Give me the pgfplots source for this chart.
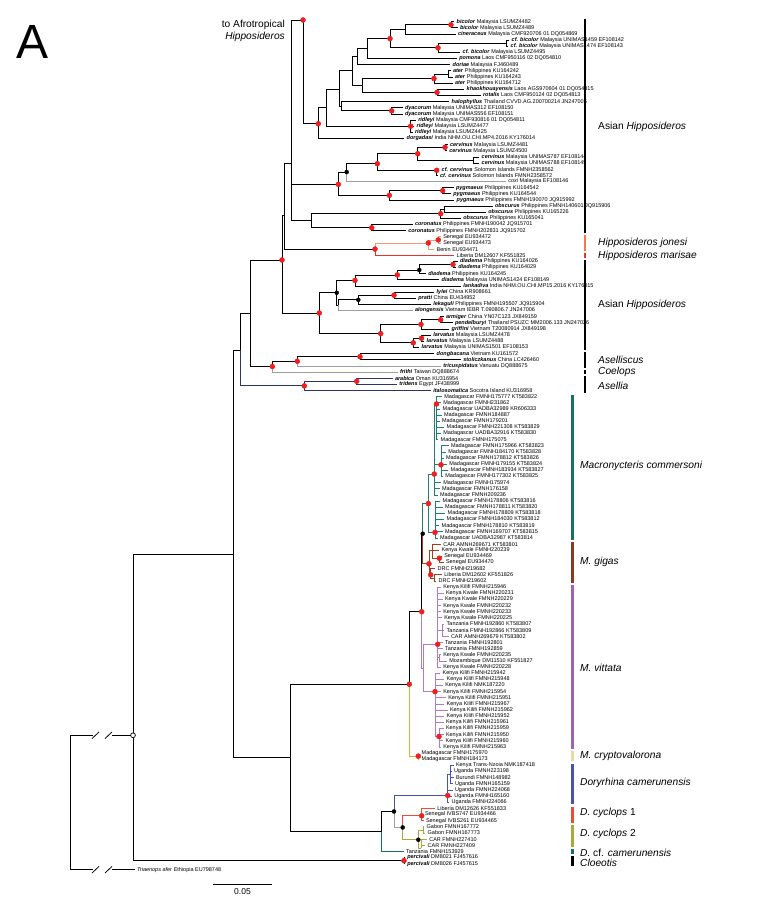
\documentclass[border=0pt]{standalone}
\usepackage{pgfplots}
\pgfplotsset{compat=1.18}
\usepackage{fontspec}
\setmainfont{Liberation Sans}
\definecolor{cRed}{HTML}{F01E1E}
\definecolor{cOr}{HTML}{F39A78}
\definecolor{cOrBar}{HTML}{F4784A}
\definecolor{cMar}{HTML}{E8322C}
\definecolor{cNv}{HTML}{2B3566}
\definecolor{cTl}{HTML}{1F7F78}
\definecolor{cTlBar}{HTML}{1A6E66}
\definecolor{cBr}{HTML}{A0401F}
\definecolor{cBrBar}{HTML}{8C3A24}
\definecolor{cPu}{HTML}{B07CC6}
\definecolor{cPuBar}{HTML}{A064B4}
\definecolor{cGd}{HTML}{E0A83C}
\definecolor{cGdBar}{HTML}{E6DCA0}
\definecolor{cBl}{HTML}{4854A8}
\definecolor{cCy}{HTML}{F04A3C}
\definecolor{cOl}{HTML}{AAAA3A}
\definecolor{cDt}{HTML}{1B6B66}
\pgfplotsset{
 eBK/.style={black,line width=0.75pt},
 eGR/.style={gray!75,line width=0.75pt},
 eOR/.style={cOr,line width=0.75pt},
 eRD/.style={cMar,line width=0.75pt},
 eNV/.style={cNv,line width=0.75pt},
 eTL/.style={cTl,line width=0.75pt},
 eBR/.style={cBr,line width=0.75pt},
 ePU/.style={cPu,line width=0.75pt},
 eGD/.style={cGd,line width=0.75pt},
 eBL/.style={cBl,line width=0.75pt},
 eCY/.style={cCy,line width=0.75pt},
 eOL/.style={cOl,line width=0.75pt},
 eDT/.style={cDt,line width=0.75pt},
}
\newcommand{\spn}[1]{\textbf{\textit{#1}}}
\newcommand{\ED}[5][eBK]{\addplot[#1] coordinates {(#2,#3) (#2,#5) (#4,#5)};}
\newcommand{\LB}[3]{\node[anchor=west,inner sep=0pt,xshift=2.3pt,font=\fontsize{5.5}{6}\selectfont] at (axis cs:#1,#2) {#3};}
\newcommand{\LF}[6][eBK]{\ED[#1]{#2}{#3}{#4}{#5}\LB{#4}{#5}{#6}}
\newcommand{\AN}[3]{\node[anchor=west,inner sep=0pt,font=\fontsize{10.2}{11}\selectfont] at (axis cs:#1,#2) {#3};}
\begin{document}
\begin{tikzpicture}
\begin{axis}[width=756pt,height=924pt,scale only axis,xmin=0,xmax=756,ymin=-2.531,ymax=147.81,y dir=reverse,hide axis,clip=false]
% ---------- top connector
\ED{291}{24}{303}{0.72}
\addplot[eBK] coordinates {(303,0.72) (303,17.6) (318.3,17.6)};
\ED{291}{24}{338.3}{27.46}
\ED{291}{24}{311.7}{33.38}
\ED{284.5}{32.5}{291}{24}
\ED{284.5}{32.5}{375}{38.0}
\ED{282}{39.77}{284.5}{32.5}
\ED{282}{39.77}{319.3}{48.4}
\ED{250}{48.4}{282}{39.77}
\ED{250}{48.4}{272.3}{57.1}
\ED{240}{54.4}{250}{48.4}
\ED[eNV]{240}{54.4}{304.3}{60.25}
% ---------- Asian Hipposideros 1
\ED{318.3}{17.6}{326.7}{15}
\LF{318.3}{17.6}{404.2}{20}{\spn{dorgadasi} India NHM.OU.CHI.MP4.2016 KY176014}
\ED{326.7}{15}{339.5}{12}
\ED{326.7}{15}{410.7}{18}
\LF{410.7}{18}{415.8}{17}{\spn{ridleyi} Malaysia CMF930816 01 DQ054811}
\LF{410.7}{18}{414.2}{18}{\spn{ridleyi} Malaysia LSUMZ4477}
\LF{410.7}{18}{412.5}{19}{\spn{ridleyi} Malaysia LSUMZ4425}
\ED{339.5}{12}{352}{9}
\ED{339.5}{12}{341}{14.7}
\LF{341}{14.7}{449.2}{14}{\spn{halophyllus} Thailand CVVD.AG.200700214 JN247005}
\ED{341}{14.7}{391.7}{15.5}
\LF{391.7}{15.5}{402.5}{15}{\spn{dyacorum} Malaysia UNIMAS312 EF108150}
\LF{391.7}{15.5}{402.5}{16}{\spn{dyacorum} Malaysia UNIMAS556 EF108151}
\ED{352}{9}{357}{6.7}
\ED{352}{9}{362}{11.4}
\ED{362}{11.4}{434}{10.25}
\ED{362}{11.4}{437}{12.5}
\LF{437}{12.5}{464.2}{12}{\spn{khaokhouayensis} Laos AGS970604 01 DQ054815}
\LF{437}{12.5}{480.5}{13}{\spn{rotalis} Laos CMF950124 02 DQ054813}
\ED{434}{10.25}{448}{9.5}
\LF{434}{10.25}{452.5}{11}{\spn{ater} Philippines KU164712}
\LF{448}{9.5}{450.5}{9}{\spn{ater} Philippines KU164242}
\LF{448}{9.5}{452.5}{10}{\spn{ater} Philippines KU164243}
\ED{357}{6.7}{367}{5.4}
\LF{357}{6.7}{450.2}{8}{\spn{doriae} Malaysia FJ460489}
\ED{367}{5.4}{390}{3.75}
\LF{367}{5.4}{456.8}{7}{\spn{pomona} Laos CMF950116 02 DQ054810}
\ED{390}{3.75}{405}{2.25}
\ED{390}{3.75}{438}{5.25}
\ED{405}{2.25}{451}{1.5}
\LF{405}{2.25}{455.5}{3}{\spn{cineraceus} Malaysia CMF920706 01 DQ054869}
\LF{451}{1.5}{454.2}{1}{\spn{bicolor} Malaysia LSUMZ4482}
\LF{451}{1.5}{457.5}{2}{\spn{bicolor} Malaysia LSUMZ4489}
\ED{438}{5.25}{506}{4.5}
\LF{438}{5.25}{460.2}{6}{\spn{cf. bicolor} Malaysia LSUMZ4495}
\LF{506}{4.5}{509.2}{4}{\spn{cf. bicolor} Malaysia UNIMAS1459 EF108142}
\LF{506}{4.5}{508.2}{5}{\spn{cf. bicolor} Malaysia UNIMAS1474 EF108143}
% cervinus group
\ED{338.3}{27.46}{346.7}{25.46}
\ED{338.3}{27.46}{389.3}{29.25}
\ED{346.7}{25.46}{377.3}{24.1}
\LF[eGR]{346.7}{25.46}{505.8}{27}{\textit{coxi} Malaysia EF108146}
\ED{377.3}{24.1}{417.7}{22.48}
\ED{377.3}{24.1}{436.7}{25.18}
\ED{417.7}{22.48}{445}{21.44}
\ED{417.7}{22.48}{473.5}{23.5}
\LF{445}{21.44}{447.5}{21}{\spn{cervinus} Malaysia LSUMZ4481}
\LF{445}{21.44}{446.8}{22}{\spn{cervinus} Malaysia LSUMZ4500}
\LF{473.5}{23.5}{479.2}{23}{\spn{cervinus} Malaysia UNIMAS787 EF108144}
\LF{473.5}{23.5}{479.2}{24}{\spn{cervinus} Malaysia UNIMAS788 EF108145}
\LF{436.7}{25.18}{439.2}{25}{\spn{cf. cervinus} Solomon Islands FMNH2358562}
\LF{436.7}{25.18}{437.5}{26}{\spn{cf. cervinus} Solomon Islands FMNH2358572}
\ED{389.3}{29.25}{442.7}{28.5}
\LF{389.3}{29.25}{454.2}{30}{\spn{pygmaeus} Philippines FMNH190070 JQ915992}
\LF{442.7}{28.5}{453.5}{28}{\spn{pygmaeus} Philippines KU164542}
\LF{442.7}{28.5}{450.8}{29}{\spn{pygmaeus} Philippines KU164544}
\ED{311.7}{33.38}{440.7}{32.24}
\ED{311.7}{33.38}{371.7}{34.52}
\ED{440.7}{32.24}{444}{31.5}
\LF{440.7}{32.24}{460.8}{33}{\spn{obscurus} Philippines KU165041}
\LF{444}{31.5}{492.5}{31}{\spn{obscurus} Philippines FMNH140601 JQ915906}
\LF{444}{31.5}{485.8}{32}{\spn{obscurus} Philippines KU165226}
\LF{371.7}{34.52}{412.5}{34}{\spn{coronatus} Philippines FMNH190042 JQ915701}
\LF{371.7}{34.52}{405.8}{35}{\spn{coronatus} Philippines FMNH202831 JQ915702}
% jonesi / marisae
\ED[eOR]{375}{38.0}{428.3}{37.0}
\LF[eRD]{375}{38.0}{454.2}{39}{Liberia DM12607 KF551825}
\ED[eOR]{428.3}{37.0}{438.3}{36.5}
\LF[eOR]{428.3}{37.0}{434.2}{38}{Benin EU934471}
\LF[eOR]{438.3}{36.5}{440.8}{36}{Senegal EU934472}
\LF[eOR]{438.3}{36.5}{440.8}{37}{Senegal EU934473}
% Asian Hipposideros 2
\ED{319.3}{48.4}{336.7}{45.1}
\ED{319.3}{48.4}{380.7}{51.75}
\ED{336.7}{45.1}{355}{43.1}
\ED{336.7}{45.1}{338.3}{47.1}
\ED{355}{43.1}{397.3}{42.2}
\LF{355}{43.1}{460.8}{44}{\spn{lankadiva} India NHM.OU.CHI.MP15.2016 KY176015}
\ED{397.3}{42.2}{419.3}{41.4}
\LF{397.3}{42.2}{439.2}{43}{\spn{diadema} Malaysia UNIMAS1424 EF108149}
\ED{419.3}{41.4}{453}{40.5}
\LF{419.3}{41.4}{425.8}{42}{\spn{diadema} Philippines KU164245}
\LF{453}{40.5}{457.5}{40}{\spn{diadema} Philippines KU164026}
\LF{453}{40.5}{455.8}{41}{\spn{diadema} Philippines KU164029}
\ED{338.3}{47.1}{358.3}{46.25}
\LF[eGR]{338.3}{47.1}{412.5}{48}{\spn{alongensis} Vietnam IEBR T.090806.7 JN247006}
\ED{358.3}{46.25}{394}{45.5}
\LF{358.3}{46.25}{430.8}{47}{\spn{lekaguli} Philippines FMNH195507 JQ915904}
\LF{394}{45.5}{434.2}{45}{\spn{lylei} China KR908661}
\LF{394}{45.5}{415.8}{46}{\spn{pratti} China EU434952}
\ED{380.7}{51.75}{421}{50.25}
\ED{380.7}{51.75}{413.3}{53.25}
\ED{421}{50.25}{440.7}{49.5}
\LF{421}{50.25}{449.2}{51}{\spn{griffini} Vietnam T20080914 JX849198}
\LF{440.7}{49.5}{443.5}{49}{\spn{armiger} China YN07C123 JX849159}
\LF{440.7}{49.5}{452.5}{50}{\spn{pendelburyi} Thailand PSUZC MM2006.133 JN247026}
\ED{413.3}{53.25}{421.5}{52.5}
\LF{413.3}{53.25}{419.2}{54}{\spn{larvatus} Malaysia UNIMAS1501 EF108153}
\LF{421.5}{52.5}{430.8}{52}{\spn{larvatus} Malaysia LSUMZ4478}
\LF{421.5}{52.5}{424.2}{53}{\spn{larvatus} Malaysia LSUMZ4488}
% Aselliscus / Coelops / Asellia
\ED{272.3}{57.1}{297.3}{56.25}
\LF[eGR]{272.3}{57.1}{397.5}{58}{\spn{frithi} Taiwan DQ888674}
\ED{297.3}{56.25}{360}{55.5}
\LF[eGR]{297.3}{56.25}{440.8}{57}{\spn{tricuspidatus} Vanuatu DQ888675}
\LF{360}{55.5}{434.2}{55}{\spn{dongbacana} Vietnam KU161572}
\LF{360}{55.5}{460.8}{56}{\spn{stoliczkanus} China LC426460}
\ED[eNV]{304.3}{60.25}{356.7}{59.5}
\LF[eNV]{304.3}{60.25}{430.8}{61}{\spn{italosomalica} Socotra Island KU316958}
\LF[eNV]{356.7}{59.5}{392.5}{59}{\spn{arabica} Oman KU316954}
\LF[eNV]{356.7}{59.5}{396.8}{60}{\spn{tridens} Egypt JF438999}
% ---------- Macronycteris commersoni
\ED[eTL]{422.7}{84.3}{428.3}{79.4}
\ED[eTL]{428.3}{79.4}{434.3}{74.6}
\ED[eTL]{428.3}{79.4}{435}{84.1}
\ED[eTL]{434.3}{74.6}{436.5}{63.2}
\ED[eTL]{434.3}{74.6}{441}{73.1}
\LF[eTL]{436.5}{63.2}{441.8}{62}{Madagascar FMNH175777 KT583822}
\LF[eTL]{436.5}{63.2}{440.8}{63}{Madagascar FMNH231862}
\LF[eTL]{436.5}{63.2}{440.2}{64}{Madagascar UADBA32989 KR606333}
\LF[eTL]{436.5}{63.2}{441.5}{65}{Madagascar FMNH184887}
\LF[eTL]{436.5}{63.2}{439.5}{66}{Madagascar FMNH179201}
\LF[eTL]{436.5}{63.2}{444.2}{67}{Madagascar FMNH221308 KT583829}
\LF[eTL]{436.5}{63.2}{440.8}{68}{Madagascar UADBA32916 KT583830}
\LF[eTL]{436.5}{63.2}{438.2}{69}{Madagascar FMNH175075}
\LF[eTL]{441}{73.1}{448.5}{70}{Madagascar FMNH175966 KT583823}
\LF[eTL]{441}{73.1}{445.8}{71}{Madagascar FMNH184170 KT583828}
\LF[eTL]{441}{73.1}{443.5}{72}{Madagascar FMNH178812 KT583826}
\LF[eTL]{441}{73.1}{446.8}{73}{Madagascar FMNH179155 KT583824}
\LF[eTL]{441}{73.1}{448.2}{74}{Madagascar FMNH183934 KT583827}
\LF[eTL]{441}{73.1}{442.8}{75}{Madagascar FMNH177302 KT583825}
\LF[eTL]{434.3}{74.6}{440.8}{76}{Madagascar FMNH175974}
\LF[eTL]{434.3}{74.6}{439.5}{77}{Madagascar FMNH176158}
\LF[eTL]{434.3}{74.6}{437.5}{78}{Madagascar FMNH209236}
\LF[eTL]{435}{84.1}{440.2}{79}{Madagascar FMNH178806 KT583816}
\LF[eTL]{435}{84.1}{442.5}{80}{Madagascar FMNH178811 KT583820}
\LF[eTL]{435}{84.1}{445.2}{81}{Madagascar FMNH178809 KT583818}
\LF[eTL]{435}{84.1}{444.2}{82}{Madagascar FMNH184030 KT583812}
\LF[eTL]{435}{84.1}{439.2}{83}{Madagascar FMNH178810 KT583819}
\LF[eTL]{435}{84.1}{442.5}{84}{Madagascar FMNH169707 KT583815}
\LF[eTL]{435}{84.1}{437.5}{85}{Madagascar UADBA32987 KT583814}
% ---------- M. gigas
\ED[eBR]{422.7}{84.3}{429}{89.2}
\ED[eBR]{429}{89.2}{432}{87.0}
\ED[eBR]{429}{89.2}{430.7}{91.0}
\LF[eBR]{432}{87.0}{440.8}{86}{CAR AMNH269671 KT583801}
\LF[eBR]{432}{87.0}{439.2}{87}{Kenya Kwale FMNH220239}
\ED[eBR]{432}{87.0}{439.3}{88.3}
\LF[eBR]{439.3}{88.3}{441.8}{88}{Senegal EU934469}
\LF[eBR]{439.3}{88.3}{443.5}{89}{Senegal EU934470}
\LF[eBR]{430.7}{91.0}{435.2}{90}{DRC FMNH219682}
\ED[eBR]{430.7}{91.0}{434}{91.5}
\LF[eBR]{434}{91.5}{441.8}{91}{Liberia DM12602 KF551826}
\LF[eBR]{434}{91.5}{436.2}{92}{DRC FMNH219602}
% ---------- M1, K, vittata
\ED{409.3}{108.8}{421.7}{97.0}
\ED[eGD]{409.3}{108.8}{418.3}{120.5}
\ED{421.7}{97.0}{422.7}{84.3}
\ED[ePU]{421.7}{97.0}{423}{106.2}
\ED[ePU]{423}{106.2}{437.7}{102.3}
\ED[ePU]{423}{106.2}{435}{110.0}
\LF[ePU]{437.7}{102.3}{440.8}{93}{Kenya Kilifi FMNH215946}
\LF[ePU]{437.7}{102.3}{443.5}{94}{Kenya Kwale FMNH220231}
\LF[ePU]{437.7}{102.3}{442.5}{95}{Kenya Kwale FMNH220229}
\LF[ePU]{437.7}{102.3}{440.8}{96}{Kenya Kwale FMNH220232}
\LF[ePU]{437.7}{102.3}{440.8}{97}{Kenya Kwale FMNH220233}
\LF[ePU]{437.7}{102.3}{441.8}{98}{Kenya Kwale FMNH220225}
\ED[ePU]{437.7}{102.3}{442}{100}
\LF[ePU]{442}{100}{444.2}{99}{Tanzania FMNH192860 KT583807}
\LF[ePU]{442}{100}{444.2}{100}{Tanzania FMNH192866 KT583809}
\LF[ePU]{442}{100}{448.5}{101}{CAR AMNH269679 KT583802}
\LF[ePU]{437.7}{102.3}{442.5}{102}{Tanzania FMNH192801}
\LF[ePU]{437.7}{102.3}{442.5}{103}{Tanzania FMNH192859}
\ED[ePU]{437.7}{102.3}{439.5}{104.5}
\LF[ePU]{439.5}{104.5}{440.8}{104}{Kenya Kwale FMNH220235}
\LF[ePU]{439.5}{104.5}{446.8}{105}{Mozambique DM11510 KF551827}
\LF[ePU]{437.7}{102.3}{440.8}{106}{Kenya Kwale FMNH220228}
\LF[ePU]{435}{110.0}{440.2}{107}{Kenya Kilifi FMNH215942}
\LF[ePU]{435}{110.0}{444.2}{108}{Kenya Kilifi FMNH215948}
\LF[ePU]{435}{110.0}{442.8}{109}{Kenya Kilifi NMK187220}
\LF[ePU]{435}{110.0}{440.8}{110}{Kenya Kilifi FMNH215954}
\LF[ePU]{435}{110.0}{445.8}{111}{Kenya Kilifi FMNH215951}
\LF[ePU]{435}{110.0}{444.2}{112}{Kenya Kilifi FMNH215967}
\LF[ePU]{435}{110.0}{447.5}{113}{Kenya Kilifi FMNH215962}
\LF[ePU]{435}{110.0}{444.2}{114}{Kenya Kilifi FMNH215952}
\LF[ePU]{435}{110.0}{443.5}{115}{Kenya Kilifi FMNH215961}
\ED[ePU]{435}{110.0}{439}{117.3}
\LF[ePU]{439}{117.3}{443.5}{116}{Kenya Kilifi FMNH215959}
\LF[ePU]{439}{117.3}{443.5}{117}{Kenya Kilifi FMNH215950}
\LF[ePU]{439}{117.3}{443.2}{118}{Kenya Kilifi FMNH215960}
\LF[ePU]{439}{117.3}{440.8}{119}{Kenya Kilifi FMNH215963}
\LF[eGD]{418.3}{120.5}{419.2}{120}{Madagascar FMNH175970}
\LF[eGD]{418.3}{120.5}{419.2}{121}{Madagascar FMNH184173}
% ---------- Doryrhina
\ED[eBL]{394}{129.5}{447.7}{126.9}
\ED[eGR]{394}{129.5}{402.7}{132.1}
\ED[eBL]{447.7}{126.9}{450}{123.5}
\LF[eBL]{450}{123.5}{453.5}{122}{Kenya Trans-Nzoia NMK187418}
\LF[eBL]{450}{123.5}{451.5}{123}{Uganda FMNH223198}
\LF[eBL]{450}{123.5}{453.5}{124}{Burundi FMNH148982}
\LF[eBL]{450}{123.5}{452.5}{125}{Uganda FMNH165159}
\LF[eBL]{447.7}{126.9}{452.5}{126}{Uganda FMNH224068}
\LF[eBL]{447.7}{126.9}{451.8}{127}{Uganda FMNH165160}
\LF[eBL]{447.7}{126.9}{449.2}{128}{Uganda FMNH224066}
\ED[eCY]{402.7}{132.1}{421.7}{130.2}
\ED[eOL]{402.7}{132.1}{418.3}{134.1}
\LF[eCY]{421.7}{130.2}{434.8}{129}{Liberia DM12626 KF551833}
\LF[eCY]{421.7}{130.2}{422.5}{130}{Senegal IVBS747 EU934466}
\LF[eCY]{421.7}{130.2}{423.5}{131}{Senegal IVBS261 EU934465}
\ED[eOL]{418.3}{134.1}{423}{132.5}
\ED[eOL]{418.3}{134.1}{421}{135.5}
\LF[eOL]{423}{132.5}{424.2}{132}{Gabon FMNH167772}
\LF[eOL]{423}{132.5}{425.2}{133}{Gabon FMNH167773}
\LF[eOL]{421}{135.5}{426.8}{134}{CAR FMNH227410}
\LF[eOL]{421}{135.5}{425.2}{135}{CAR FMNH227409}
\ED{381.7}{132.7}{394}{129.5}
\LF[eDT]{381.7}{132.7}{403.5}{136}{Tanzania FMNH153929}
\LF{404}{137.5}{404.8}{137}{\spn{percivali} DM8021 FJ457616}
\LF{404}{137.5}{404.8}{138}{\spn{percivali} DM8026 FJ457615}
% ---------- deep structure
\ED{290}{120.75}{409.3}{108.8}
\ED{290}{120.75}{381.7}{132.7}
\ED{233}{87.6}{240}{54.4}
\ED{233}{87.6}{290}{120.75}
\ED{133}{117.1}{233}{87.6}
\ED{133}{117.1}{404}{137.5}
\addplot[eBK] coordinates {(93,117.1) (70,117.1) (70,138.98) (93,138.98)};
\addplot[eBK] coordinates {(112,117.1) (133,117.1)};
\addplot[eBK] coordinates {(112,138.98) (134.5,138.98)};
\addplot[eBK] coordinates {(92,117.65) (99,116.55)};
\addplot[eBK] coordinates {(105,117.65) (112,116.55)};
\addplot[eBK] coordinates {(92,139.53) (99,138.43)};
\addplot[eBK] coordinates {(105,139.53) (112,138.43)};
\node[anchor=west,inner sep=0pt,xshift=2.3pt,font=\fontsize{5.5}{6}\selectfont] at (axis cs:134.5,138.98) {\textit{Triaenops afer} Ethiopia EU798748};
% ---------- node markers
\addplot[only marks,mark=*,mark size=2.5pt,color=cRed] coordinates {
(303,0.72) (451,1.5) (390,3.75) (438,5.25) (434,10.25) (437,12.5) (391.7,15.5) (410.7,18) (318.3,17.6)
(445,21.44) (417.7,22.48) (436.7,25.18) (377.3,24.1) (442.7,28.5) (389.3,29.25) (338.3,27.46) (440.7,32.24)
(371.7,34.52) (438.3,36.5) (428.3,37.0) (375,38.0) (282,39.77) (453,40.5) (397.3,42.2) (355,43.1) (394,45.5)
(319.3,48.4) (440.7,49.5) (421,50.25) (421.5,52.5) (413.3,53.25) (380.7,51.75) (360,55.5) (297.3,56.25)
(272.3,57.1) (356.7,59.5) (304.3,60.25)
(436.5,63.2) (441,73.1) (434.3,74.6) (428.3,79.4) (435,84.1) (439.3,88.3) (429,89.2) (430.7,91.0)
(421.7,97.0) (437.7,102.3) (435,110.0) (439,117.3) (409.3,108.8) (418.3,120.5) (447.7,126.9) (421.7,130.2) (404,137.5)};
\addplot[only marks,mark=*,mark size=2pt,color=black] coordinates {
(346.7,25.46) (419.3,41.4) (336.7,45.1) (358.3,46.25) (422.7,84.3) (394,129.5) (402.7,132.1) (418.3,134.1)};
\addplot[only marks,mark=*,mark size=2.4pt,mark options={fill=white,draw=black,line width=0.7pt}] coordinates {(133,117.1)};
% ---------- scale bar
\addplot[black,line width=0.9pt] coordinates {(213,141.3) (272,141.3)};
\node[font=\fontsize{8.5}{9}\selectfont,inner sep=0pt] at (axis cs:242.5,142.6) {0.05};
% ---------- panel letter and pruned label
\node[font=\fontsize{48}{48}\selectfont,inner sep=0pt] at (axis cs:33,4.3) {A};
\node[anchor=east,inner sep=0pt,font=\fontsize{10.2}{11}\selectfont] at (axis cs:285,1.54) {to Afrotropical};
\node[anchor=east,inner sep=0pt,font=\fontsize{10.2}{11}\selectfont] at (axis cs:285,3.54) {\textit{Hipposideros}};
% ---------- clade bars
\addplot[black,line width=2.6pt] coordinates {(585,0.5) (585,35.4)};
\addplot[cOrBar,line width=2.6pt] coordinates {(585,35.7) (585,38.3)};
\addplot[cMar,line width=2.6pt] coordinates {(585,38.6) (585,39.4)};
\addplot[black,line width=2.6pt] coordinates {(585,39.7) (585,54.4)};
\addplot[black,line width=2.6pt] coordinates {(585,54.7) (585,57.3)};
\addplot[black,line width=2.6pt] coordinates {(585,57.6) (585,58.4)};
\addplot[black,line width=2.6pt] coordinates {(585,58.7) (585,61.4)};
\addplot[cTlBar,line width=2.6pt] coordinates {(572.5,61.7) (572.5,85.3)};
\addplot[cBrBar,line width=2.6pt] coordinates {(572.5,85.7) (572.5,92.3)};
\addplot[cPuBar,line width=2.6pt] coordinates {(572.5,92.7) (572.5,119.3)};
\addplot[cGdBar,line width=2.6pt] coordinates {(572.5,119.7) (572.5,121.3)};
\addplot[cBl,line width=2.6pt] coordinates {(572.5,121.7) (572.5,128.3)};
\addplot[cCy,line width=2.6pt] coordinates {(572.5,128.7) (572.5,131.3)};
\addplot[cOl,line width=2.6pt] coordinates {(572.5,131.7) (572.5,135.3)};
\addplot[cDt,line width=2.6pt] coordinates {(572.5,135.6) (572.5,136.4)};
\addplot[black,line width=2.6pt] coordinates {(572.5,136.7) (572.5,138.3)};
\AN{598}{18.13}{Asian \textit{Hipposideros}}
\AN{598}{37.0}{\textit{Hipposideros jonesi}}
\AN{598}{39.1}{\textit{Hipposideros marisae}}
\AN{598}{47.1}{Asian \textit{Hipposideros}}
\AN{598}{56.0}{\textit{Aselliscus}}
\AN{598}{57.9}{\textit{Coelops}}
\AN{598}{60.2}{\textit{Asellia}}
\AN{580}{73.3}{\textit{Macronycteris commersoni}}
\AN{580}{88.9}{\textit{M. gigas}}
\AN{580}{106.2}{\textit{M. vittata}}
\AN{580}{120.5}{\textit{M. cryptovalorona}}
\AN{580}{124.9}{\textit{Doryrhina camerunensis}}
\AN{580}{129.8}{\textit{D. cyclops} 1}
\AN{580}{133.2}{\textit{D. cyclops} 2}
\AN{580}{136.2}{\textit{D.} cf. \textit{camerunensis}}
\AN{580}{137.8}{\textit{Cloeotis}}
\end{axis}
\pgfresetboundingbox
\path[use as bounding box] (0,0) rectangle (756pt,924pt);
\end{tikzpicture}
\end{document}
